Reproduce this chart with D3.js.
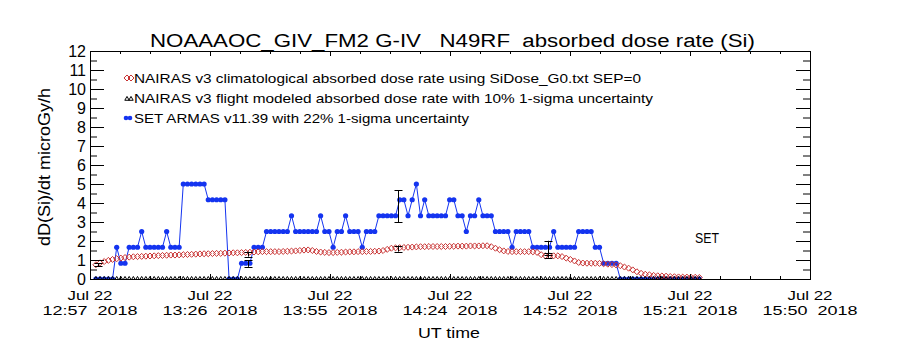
<!DOCTYPE html>
<html>
<head>
<meta charset="utf-8">
<script src="https://cdn.jsdelivr.net/npm/d3@7"></script>
<style>
body { margin: 0; background: #fff; }
text { font-family: "Liberation Sans", Arial, sans-serif; fill: #000; white-space: pre; }
</style>
</head>
<body>
<div id="wrapper"></div>
<script>
/* chart text */
const title = "NOAAAOC_GIV_FM2 G-IV   N49RF  absorbed dose rate (Si)";
const yLabel = "dD(Si)/dt microGy/h";
const xLabel = "UT time";
const legendLabels = [
	"NAIRAS v3 climatological absorbed dose rate using SiDose_G0.txt SEP=0",
	"NAIRAS v3 flight modeled absorbed dose rate with 10% 1-sigma uncertainty",
	"SET ARMAS v11.39 with 22% 1-sigma uncertainty"
];

/* axis ticks */
const xTickTimes = ["2018-07-22 12:57:35", "2018-07-22 13:26:25", "2018-07-22 13:55:15",
	"2018-07-22 14:24:05", "2018-07-22 14:52:55", "2018-07-22 15:21:45", "2018-07-22 15:50:35"];
const xTickDay = ["Jul 22", "Jul 22", "Jul 22", "Jul 22", "Jul 22", "Jul 22", "Jul 22"];
const xTickClock = ["12:57  2018", "13:26  2018", "13:55  2018", "14:24  2018", "14:52  2018", "15:21  2018", "15:50  2018"];
const yTicks = [0, 1, 2, 3, 4, 5, 6, 7, 8, 9, 10, 11, 12];

/* series, one value per minute from seriesStart */
const seriesStart = "2018-07-22 12:59:00";

const setVals = [
	0, 0, 0, 0, 0, 1.67, 0.83, 0.83, 1.67, 1.67, 1.67, 2.5, 1.67, 1.67, 1.67, 1.67, 1.67, 2.5, 1.67, 1.67, 1.67,
	5, 5, 5, 5, 5, 5, 4.17, 4.17, 4.17, 4.17, 4.17, 0, 0, 0, 0.83, 0.83, 0.83, 1.67, 1.67, 1.67,
	2.5, 2.5, 2.5, 2.5, 2.5, 2.5, 3.33, 2.5, 2.5, 2.5, 2.5, 2.5, 2.5, 3.33, 2.5, 2.5, 1.67, 2.5, 2.5, 3.33,
	2.5, 2.5, 2.5, 1.67, 2.5, 2.5, 2.5,
	3.33, 3.33, 3.33, 3.33, 3.33, 4.17, 4.17, 3.33, 4.17, 5, 3.33, 4.17, 3.33, 3.33, 3.33, 3.33, 3.33,
	4.17, 4.17, 3.33, 3.33, 2.5, 3.33, 3.33, 4.17, 3.33, 3.33, 3.33,
	2.5, 2.5, 2.5, 2.5, 1.67, 2.5, 2.5, 2.5, 2.5, 1.67, 1.67, 1.67, 1.67, 1.67, 2.5, 1.67, 1.67, 1.67, 1.67, 1.67,
	2.5, 2.5, 2.5, 2.5, 1.67, 1.67, 0.83, 0.83, 0.83, 0.83,
	0, 0, 0, 0, 0, 0, 0, 0, 0, 0, 0, 0, 0, 0, 0, 0, 0, 0, 0, 0
];

const climVals = [
	0.75, 0.85, 0.92, 0.98, 1.03, 1.07, 1.10, 1.13, 1.15, 1.17,
	1.18, 1.19, 1.20, 1.21, 1.22, 1.23, 1.24, 1.25, 1.26, 1.26,
	1.27, 1.28, 1.29, 1.30, 1.31, 1.32, 1.33, 1.33, 1.34, 1.35,
	1.35, 1.36, 1.37, 1.38, 1.38, 1.39, 1.40, 1.41, 1.42, 1.43,
	1.44, 1.44, 1.44, 1.44, 1.44, 1.45, 1.46, 1.47, 1.48, 1.50,
	1.52, 1.53, 1.50, 1.45, 1.42, 1.40, 1.39, 1.39, 1.40, 1.41,
	1.42, 1.43, 1.43, 1.44, 1.44, 1.45, 1.45, 1.46, 1.47, 1.50,
	1.56, 1.62, 1.64, 1.65, 1.66, 1.67, 1.68, 1.69, 1.70, 1.70,
	1.71, 1.71, 1.71, 1.71, 1.71, 1.72, 1.72, 1.73, 1.73, 1.73,
	1.74, 1.74, 1.74, 1.75, 1.75, 1.70, 1.62, 1.54, 1.48, 1.45,
	1.44, 1.44, 1.44, 1.44, 1.44, 1.43, 1.40, 1.28, 1.22, 1.22,
	1.22, 1.22, 1.18, 1.10, 1.03, 0.95, 0.87, 0.84, 0.83, 0.83,
	0.83, 0.82, 0.80, 0.78, 0.76, 0.74, 0.70, 0.63, 0.57, 0.48,
	0.38, 0.30, 0.25, 0.22, 0.19, 0.17, 0.16, 0.15, 0.13, 0.12,
	0.11, 0.10, 0.10, 0.09, 0.09, 0.08
];

// flight modeled run sits on zero for the whole flight
const flightVals = [
	0, 0, 0, 0, 0, 0, 0, 0, 0, 0,  0, 0, 0, 0, 0, 0, 0, 0, 0, 0,
	0, 0, 0, 0, 0, 0, 0, 0, 0, 0,  0, 0, 0, 0, 0, 0, 0, 0, 0, 0,
	0, 0, 0, 0, 0, 0, 0, 0, 0, 0,  0, 0, 0, 0, 0, 0, 0, 0, 0, 0,
	0, 0, 0, 0, 0, 0, 0, 0, 0, 0,  0, 0, 0, 0, 0, 0, 0, 0, 0, 0,
	0, 0, 0, 0, 0, 0, 0, 0, 0, 0,  0, 0, 0, 0, 0, 0, 0, 0, 0, 0,
	0, 0, 0, 0, 0, 0, 0, 0, 0, 0,  0, 0, 0, 0, 0, 0, 0, 0, 0, 0,
	0, 0, 0, 0, 0, 0, 0, 0, 0, 0,  0, 0, 0, 0, 0, 0, 0, 0, 0, 0,
	0, 0, 0, 0, 0, 0
];

/* error bars */
const errTimes = ["2018-07-22 12:59:30", "2018-07-22 13:35:35", "2018-07-22 14:11:40", "2018-07-22 14:47:45"];
const errClim = [0.76, 1.31, 1.60, 1.25];
const errSet = [0, 0.82, 3.82, 1.65];
const climSigma = 0.10;
const setSigma = 0.22;

const blue = "#1434f0";
const red = "#c83232";

function drawChart() {
	const dimensions = { width: 900, height: 350, left: 90, right: 810, top: 51, bottom: 279 };

	const svg = d3.select("#wrapper").append("svg")
		.attr("width", dimensions.width)
		.attr("height", dimensions.height);

	const parse = d3.utcParse("%Y-%m-%d %H:%M:%S");
	const tickDates = xTickTimes.map(parse);
	const start = parse(seriesStart);
	const timeOf = i => d3.utcMinute.offset(start, i);

	const x = d3.scaleUtc()
		.domain([tickDates[0], tickDates[tickDates.length - 1]])
		.range([dimensions.left, dimensions.right]);
	const y = d3.scaleLinear()
		.domain([0, 12])
		.range([dimensions.bottom, dimensions.top]);

	const setData = setVals.map((v, i) => ({ t: timeOf(i), v: v }));
	const climData = climVals.map((v, i) => ({ t: timeOf(i), v: v }));
	const flightData = flightVals.map((v, i) => ({ t: timeOf(i), v: v }));

	// minor ticks: quarters between major x ticks, halves on y
	const xMinor = [];
	for (let k = 0; k < tickDates.length - 1; k++) {
		const a = +tickDates[k], b = +tickDates[k + 1];
		[1, 2, 3].forEach(j => xMinor.push(new Date(a + (b - a) * j / 4)));
	}
	const yMinor = d3.range(0.5, 12, 1);

/* data */
	svg.append("clipPath").attr("id", "plot-clip")
		.append("rect")
		.attr("x", dimensions.left).attr("y", dimensions.top)
		.attr("width", dimensions.right - dimensions.left)
		.attr("height", dimensions.bottom - dimensions.top + 0.5);

	const plot = svg.append("g").attr("clip-path", "url(#plot-clip)");

	const line = d3.line().x(d => x(d.t)).y(d => y(d.v));
	plot.append("path")
		.datum(setData)
		.attr("d", line)
		.attr("fill", "none")
		.attr("stroke", blue)
		.attr("stroke-width", 1);
	plot.selectAll(".set-dot")
		.data(setData)
		.enter().append("circle")
		.attr("class", "set-dot")
		.attr("cx", d => x(d.t))
		.attr("cy", d => y(d.v))
		.attr("r", 2.6)
		.attr("fill", blue);

	const diamond = d3.symbol().type(d3.symbolDiamond2).size(23);
	plot.selectAll(".clim")
		.data(climData)
		.enter().append("path")
		.attr("class", "clim")
		.attr("d", diamond)
		.attr("transform", d => `translate(${x(d.t)},${y(d.v)})`)
		.attr("fill", "none")
		.attr("stroke", red)
		.attr("stroke-width", 1);

	const triangle = d3.symbol().type(d3.symbolTriangle2).size(14);
	plot.selectAll(".flight")
		.data(flightData)
		.enter().append("path")
		.attr("class", "flight")
		.attr("d", triangle)
		.attr("transform", d => `translate(${x(d.t)},${y(d.v)})`)
		.attr("fill", "none")
		.attr("stroke", "#000")
		.attr("stroke-width", 1);

	// error bars
	const bars = [];
	errTimes.forEach((t, i) => {
		bars.push({ t: parse(t), v: errClim[i], s: climSigma });
		if (errSet[i] > 0) bars.push({ t: parse(t), v: errSet[i], s: setSigma });
	});
	const eb = svg.append("g").attr("stroke", "#000").attr("stroke-width", 1);
	bars.forEach(d => {
		const cx = Math.round(x(d.t)) + 0.5;
		const y0 = y(d.v * (1 - d.s)), y1 = y(d.v * (1 + d.s));
		eb.append("line").attr("x1", cx).attr("x2", cx).attr("y1", y0).attr("y2", y1);
		eb.append("line").attr("x1", cx - 4).attr("x2", cx + 4).attr("y1", Math.round(y0) + 0.5).attr("y2", Math.round(y0) + 0.5);
		eb.append("line").attr("x1", cx - 4).attr("x2", cx + 4).attr("y1", Math.round(y1) + 0.5).attr("y2", Math.round(y1) + 0.5);
	});

/* axes */
	const styleAxis = g => g.attr("font-family", null).attr("font-size", null)
		.call(s => s.selectAll("path, line").attr("stroke", "#000"));

	svg.append("g").attr("transform", `translate(${dimensions.left},0)`)
		.call(d3.axisLeft(y).tickValues(yTicks).tickSizeInner(-14).tickSizeOuter(0).tickPadding(4))
		.call(styleAxis)
		.call(g => g.selectAll("text").style("font-size", "16px"));
	svg.append("g").attr("transform", `translate(${dimensions.left},0)`)
		.call(d3.axisLeft(y).tickValues(yMinor).tickSize(-7).tickFormat(""))
		.call(styleAxis);

	svg.append("g").attr("transform", `translate(${dimensions.right},0)`)
		.call(d3.axisRight(y).tickValues(yTicks).tickSize(-14).tickFormat(""))
		.call(styleAxis);
	svg.append("g").attr("transform", `translate(${dimensions.right},0)`)
		.call(d3.axisRight(y).tickValues(yMinor).tickSize(-7).tickFormat(""))
		.call(styleAxis);

	svg.append("g").attr("transform", `translate(0,${dimensions.bottom})`)
		.call(d3.axisBottom(x).tickValues(tickDates).tickSize(-5).tickFormat(""))
		.call(styleAxis);
	svg.append("g").attr("transform", `translate(0,${dimensions.bottom})`)
		.call(d3.axisBottom(x).tickValues(xMinor).tickSize(-3).tickFormat(""))
		.call(styleAxis);

	svg.append("g").attr("transform", `translate(0,${dimensions.top})`)
		.call(d3.axisTop(x).tickValues(tickDates).tickSize(-5).tickFormat(""))
		.call(styleAxis);
	svg.append("g").attr("transform", `translate(0,${dimensions.top})`)
		.call(d3.axisTop(x).tickValues(xMinor).tickSize(-3).tickFormat(""))
		.call(styleAxis);

	// two line date labels under the x axis
	const xl = svg.append("g").selectAll("g")
		.data(tickDates)
		.enter().append("g")
		.attr("transform", d => `translate(${x(d)},0)`);
	xl.append("text")
		.attr("y", 300)
		.attr("text-anchor", "middle")
		.attr("textLength", 45).attr("lengthAdjust", "spacingAndGlyphs")
		.style("font-size", "13px")
		.text((d, i) => xTickDay[i]);
	xl.append("text")
		.attr("y", 315)
		.attr("text-anchor", "middle")
		.attr("textLength", 95).attr("lengthAdjust", "spacingAndGlyphs")
		.style("font-size", "13px")
		.text((d, i) => xTickClock[i]);

/* labels */
	svg.append("text")
		.attr("x", 150).attr("y", 47)
		.attr("textLength", 605).attr("lengthAdjust", "spacingAndGlyphs")
		.style("font-size", "18px")
		.text(title);

	svg.append("text")
		.attr("transform", "translate(50,167) rotate(-90)")
		.attr("text-anchor", "middle")
		.attr("textLength", 158).attr("lengthAdjust", "spacingAndGlyphs")
		.style("font-size", "16px")
		.text(yLabel);

	svg.append("text")
		.attr("x", 449).attr("y", 338)
		.attr("text-anchor", "middle")
		.attr("textLength", 62).attr("lengthAdjust", "spacingAndGlyphs")
		.style("font-size", "15px")
		.text(xLabel);

	svg.append("text")
		.attr("x", 695).attr("y", 242.5)
		.attr("textLength", 24).attr("lengthAdjust", "spacingAndGlyphs")
		.style("font-size", "15px")
		.text("SET");

/* legend */
	const legendWidths = [507, 519, 335];
	const legendY = [78, 98, 118];
	const legend = svg.append("g");
	legendLabels.forEach((label, i) => {
		legend.append("text")
			.attr("x", 134).attr("y", legendY[i] + 4.5)
			.attr("textLength", legendWidths[i]).attr("lengthAdjust", "spacingAndGlyphs")
			.style("font-size", "13px")
			.text(label);
	});
	[127, 131].forEach(cx => {
		legend.append("path").attr("d", diamond)
			.attr("transform", `translate(${cx},${legendY[0]})`)
			.attr("fill", "none").attr("stroke", red);
		legend.append("path").attr("d", triangle)
			.attr("transform", `translate(${cx},${legendY[1] + 1})`)
			.attr("fill", "none").attr("stroke", "#000");
	});
	legend.append("line")
		.attr("x1", 124).attr("x2", 132)
		.attr("y1", legendY[2]).attr("y2", legendY[2])
		.attr("stroke", blue);
	[126, 130].forEach(cx => {
		legend.append("circle").attr("cx", cx).attr("cy", legendY[2]).attr("r", 2.3).attr("fill", blue);
	});
}
drawChart();
</script>
</body>
</html>
